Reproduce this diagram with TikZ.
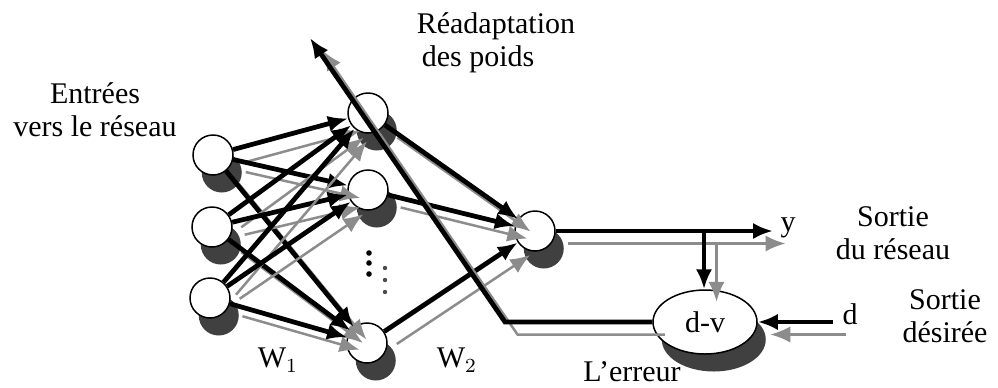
\documentclass[tikz,border=0pt]{standalone}
\usepackage{fontspec}
\setmainfont{Liberation Serif}
\usetikzlibrary{arrows.meta,shapes.geometric,shadows}

\begin{document}
\begin{tikzpicture}[x=0.4pt, y=-0.4pt]
\tikzset{ >={Latex[length=8pt,width=6.5pt]}, font=\fontsize{12}{13.2}\selectfont,
  neurone/.style={circle, draw, semithick, fill=white, minimum size=16pt, inner sep=0pt,
    drop shadow={shadow xshift=3.5pt, shadow yshift=-7pt, fill=black!75, opacity=1}},
  fleche/.style={->, line width=1.9pt,
    preaction={draw=black!45, line width=1pt, transform canvas={shift={(5pt,-5pt)}}}},
}
\useasboundingbox (0,0) rectangle (998,387);
%\draw [lightgray] (0,0) grid[step=50] (998,387);

\node [neurone] (in1) at (213,155) {};
\node [neurone] (in2) at (212,227) {};
\node [neurone] (in3) at (210,298) {};

\node [neurone] (h1) at (368,113) {};
\node [neurone] (h2) at (368,190) {};
\node [neurone] (h3) at (367,343) {};

\node [neurone] (out) at (535,231) {};

\node [neurone, ellipse, minimum width=41.6pt, minimum height=25.6pt] (err) at (705,322) {d-v};

% couche cachee
\foreach \i in {1,2,3}
  \foreach \j in {1,2,3}
    \draw [fleche] (in\i) -- (h\j);

\foreach \j in {1,2,3}
  \draw [fleche] (h\j) -- (out);

\foreach \y in {253,263,274} \fill (369,\y) circle (2.8);
\foreach \y in {268,280,292} \fill [black!70] (385,\y) circle (2.2);

% sortie et erreur
\coordinate (ysort) at (773,231);
\coordinate (br) at (704,231);
\coordinate (dent) at (833,322);
\coordinate (coin) at (505,322);
\coordinate (rea) at (310,38);

\draw [fleche] (out) -- (ysort);
\draw [fleche] (br) -- (br |- err.north);
\draw [fleche] (dent) -- (err.east);
\draw [fleche] (err.west) -- (coin) -- (rea);

\node (y) at (788,228) {y};
\node (d) at (850,314) {d};
\node (w1) at (278,360) {W$_1$};
\node (w2) at (457,360) {W$_2$};

\node [align=center] (entrees) at (95,110) {Entrées\\vers le réseau};
\node [align=left, anchor=west] (poids) at (408,43) {Réadaptation\\\hspace{2pt}des poids};
\node [align=center] (sreseau) at (893,233) {Sortie\\du réseau};
\node [align=center] (sdesiree) at (945,316) {Sortie\\désirée};
\node (erreur) at (632,372) {L’erreur};

\end{tikzpicture}
\end{document}
